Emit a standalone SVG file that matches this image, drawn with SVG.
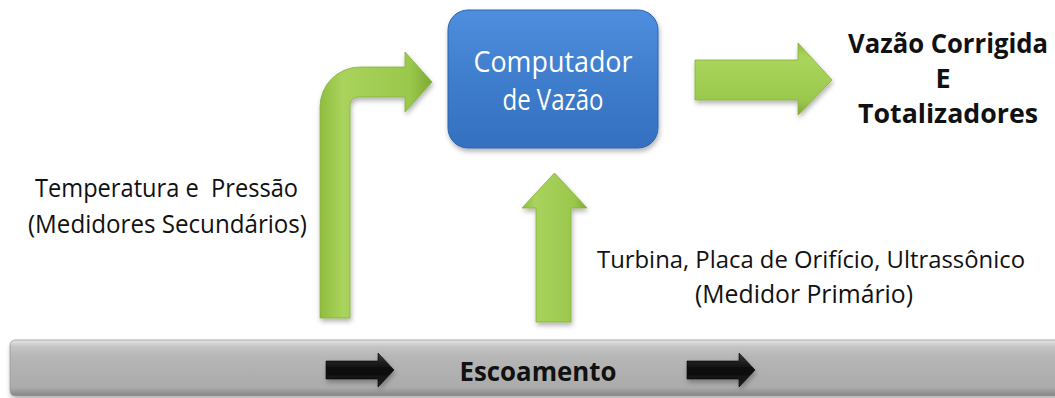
<svg xmlns="http://www.w3.org/2000/svg" width="1055" height="398" viewBox="0 0 1055 398">
<defs>
<linearGradient id="gGreenV" x1="0" y1="0" x2="1" y2="0">
<stop offset="0" stop-color="#8fbd3e"/><stop offset="0.2" stop-color="#a9d35c"/><stop offset="0.8" stop-color="#9ac84c"/><stop offset="1" stop-color="#7fa935"/>
</linearGradient>
<linearGradient id="gGreenH" x1="0" y1="0" x2="0" y2="1">
<stop offset="0" stop-color="#8fbd3e"/><stop offset="0.2" stop-color="#aad55d"/><stop offset="0.8" stop-color="#9ac84c"/><stop offset="1" stop-color="#7fa935"/>
</linearGradient>
<linearGradient id="gBlue" x1="0" y1="0" x2="0" y2="1">
<stop offset="0" stop-color="#4f8ede"/><stop offset="0.5" stop-color="#3f7dcd"/><stop offset="1" stop-color="#3470c0"/>
</linearGradient>
<linearGradient id="gPipe" x1="0" y1="0" x2="0" y2="1">
<stop offset="0" stop-color="#e6e6e6"/><stop offset="0.12" stop-color="#c4c4c4"/><stop offset="0.3" stop-color="#b6b6b6"/><stop offset="0.85" stop-color="#ababab"/><stop offset="1" stop-color="#858585"/>
</linearGradient>
<linearGradient id="gBlack" x1="0" y1="0" x2="0" y2="1">
<stop offset="0" stop-color="#3a3a3a"/><stop offset="0.5" stop-color="#0a0a0a"/><stop offset="1" stop-color="#222"/>
</linearGradient>
<filter id="sh" x="-20%" y="-20%" width="140%" height="140%">
<feDropShadow dx="1" dy="3" stdDeviation="2.5" flood-color="#000" flood-opacity="0.3"/>
</filter>
</defs>
<style>
.t{font-family:"Open Sans","Liberation Sans",sans-serif;fill:#111;white-space:pre}
.b{font-family:"Open Sans","Liberation Sans",sans-serif;font-weight:bold;fill:#111}
.w{font-family:"Open Sans","Liberation Sans",sans-serif;fill:#fff;font-size:29px}
.green{stroke:#86b03a;stroke-width:0.8;filter:url(#sh)}
</style>
<rect width="1055" height="398" fill="#fff"/>

<g id="pipe">
<path d="M16,340 L1060,340 L1060,396 L16,396 Q10,396 10,390 L10,346 Q10,340 16,340 Z" fill="url(#gPipe)" stroke="#9a9a9a" stroke-width="0.8" filter="url(#sh)"/>
<text class="b" x="538" y="381" font-size="27" text-anchor="middle" textLength="157" lengthAdjust="spacingAndGlyphs">Escoamento</text>
</g>

<g id="computador">
<rect x="448" y="10" width="210" height="138" rx="20" fill="url(#gBlue)" stroke="#2d64ad" stroke-width="1" filter="url(#sh)"/>
<text class="w" x="553" y="72" text-anchor="middle" textLength="159" lengthAdjust="spacingAndGlyphs">Computador</text>
<text class="w" x="553" y="110" text-anchor="middle" textLength="101" lengthAdjust="spacingAndGlyphs">de Vazão</text>
</g>

<g id="saida">
<text class="b" x="1048" y="53" font-size="26" text-anchor="end" textLength="200" lengthAdjust="spacingAndGlyphs">Vazão Corrigida</text>
<text class="b" x="943" y="88" font-size="27" text-anchor="middle">E</text>
<text class="b" x="948" y="123" font-size="27" text-anchor="middle" textLength="180" lengthAdjust="spacingAndGlyphs">Totalizadores</text>
</g>

<g id="secundarios">
<text class="t" x="35" y="197" font-size="26" textLength="263" lengthAdjust="spacingAndGlyphs">Temperatura e  Pressão</text>
<text class="t" x="28" y="233" font-size="26" textLength="279" lengthAdjust="spacingAndGlyphs">(Medidores Secundários)</text>
</g>

<g id="primario">
<text class="t" x="597" y="268" font-size="24.5" textLength="428" lengthAdjust="spacingAndGlyphs">Turbina, Placa de Orifício, Ultrassônico</text>
<text class="t" x="695" y="303" font-size="26" textLength="218" lengthAdjust="spacingAndGlyphs">(Medidor Primário)</text>
</g>

<g id="connectors">
<path class="green" fill="url(#gGreenV)" d="M320,318 L320,107 A40,40 0 0 1 360,67 L405,67 L405,52 L432,82 L405,112 L405,97 L358,97 A8,8 0 0 0 350,105 L350,318 Z"/>
<path class="green" fill="url(#gGreenH)" d="M695,60 L798,60 L798,43 L832,80 L798,115 L798,100 L695,100 Z"/>
<path class="green" fill="url(#gGreenV)" d="M536,322 L536,208 L522,208 L554.5,173 L587,208 L571,208 L571,322 Z"/>
<path fill="url(#gBlack)" stroke="#000" stroke-width="0.6" filter="url(#sh)" d="M326,361 L378,361 L378,353 L394,370 L378,387 L378,379 L326,379 Z"/>
<path fill="url(#gBlack)" stroke="#000" stroke-width="0.6" filter="url(#sh)" d="M687,361 L739,361 L739,353 L755,370 L739,387 L739,379 L687,379 Z"/>
</g>
</svg>
